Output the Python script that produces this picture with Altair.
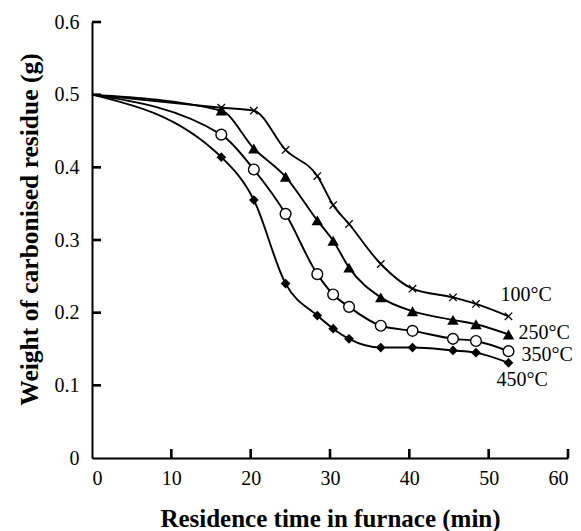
import altair as alt
import pandas as pd

# ---- data ----
time_min = [0, 16.3, 20.4, 24.4, 28.4, 30.4, 32.4, 36.4, 40.4, 45.5, 48.4, 52.5]
series_names = ["100°C", "250°C", "350°C", "450°C"]
w_100 = [0.500, 0.482, 0.478, 0.424, 0.388, 0.348, 0.322, 0.267, 0.233, 0.221, 0.212, 0.195]
w_250 = [0.500, 0.478, 0.426, 0.387, 0.327, 0.299, 0.262, 0.221, 0.202, 0.190, 0.184, 0.170]
w_350 = [0.500, 0.445, 0.397, 0.336, 0.253, 0.225, 0.208, 0.182, 0.175, 0.164, 0.161, 0.147]
w_450 = [0.500, 0.414, 0.355, 0.240, 0.196, 0.178, 0.164, 0.152, 0.152, 0.148, 0.145, 0.131]
x_tick_values = [0, 10, 20, 30, 40, 50, 60]
y_tick_values = [0, 0.1, 0.2, 0.3, 0.4, 0.5, 0.6]

series_values = [w_100, w_250, w_350, w_450]

# ---- styling ----
FONT = "Liberation Serif"
marker_styles = [
    dict(shape="M-1,-1L1,1M-1,1L1,-1", filled=False, stroke="black", strokeWidth=1.3, size=55),
    dict(shape="triangle-up", filled=True, fill="black", size=130),
    dict(shape="circle", filled=True, fill="white", stroke="black", strokeWidth=1.4, size=115),
    dict(shape="diamond", filled=True, fill="black", size=95),
]
label_offsets = [(-8, -21), (10, -1), (13, 4), (-12, 17)]

rows = []
for name, vals in zip(series_names, series_values):
    for t, v in zip(time_min, vals):
        rows.append({"time": t, "weight": v, "series": name})
df = pd.DataFrame(rows)

x_scale = alt.Scale(domain=[0, 60], nice=False, zero=False)
y_scale = alt.Scale(domain=[0, 0.6], nice=False)

x_axis = alt.Axis(
    values=x_tick_values, ticks=False, tickSize=0, grid=False, format="d",
    labelFont=FONT, labelFontSize=20, labelColor="black", labelPadding=10,
    domainColor="black", domainWidth=2,
    title="Residence time in furnace (min)", titleFont=FONT, titleFontSize=25,
    titleFontWeight="bold", titleColor="black", titlePadding=18,
)
y_axis = alt.Axis(
    values=y_tick_values, ticks=False, tickSize=0, grid=False, format=".1~f",
    labelFont=FONT, labelFontSize=20, labelColor="black", labelPadding=13,
    domainColor="black", domainWidth=2,
    title="Weight of carbonised residue (g)", titleFont=FONT, titleFontSize=25.5,
    titleFontWeight="bold", titleColor="black", titlePadding=12, titleY=207,
)

# inward axis ticks (positions from the tick values, length in pixels)
tick_df = pd.DataFrame({
    "tx": [v for v in x_tick_values if v > 0],
    "ty": [v for v in y_tick_values if v > 0],
})
x_ticks = alt.Chart(tick_df).mark_rule(color="black", strokeWidth=2.6).encode(
    x=alt.X("tx:Q", scale=x_scale, axis=x_axis),
    y=alt.value(436), y2=alt.value(427),
)
y_ticks = alt.Chart(tick_df).mark_rule(color="black", strokeWidth=2.6).encode(
    y=alt.Y("ty:Q", scale=y_scale, axis=y_axis),
    x=alt.value(0), x2=alt.value(9),
)

X = alt.X("time:Q", scale=x_scale, axis=x_axis)
Y = alt.Y("weight:Q", scale=y_scale, axis=y_axis)

lines = alt.Chart(df).mark_line(
    interpolate="monotone", color="black", strokeWidth=1.9
).encode(x=X, y=Y, detail="series:N")

layers = [x_ticks, y_ticks, lines]
for name, style, (dx, dy) in zip(series_names, marker_styles, label_offsets):
    sub = df[df["series"] == name]
    pts = sub[sub["time"] > 0]
    layers.append(
        alt.Chart(pts).mark_point(opacity=1, **style).encode(
            x=alt.X("time:Q", scale=x_scale), y=alt.Y("weight:Q", scale=y_scale)
        )
    )
    last = sub[sub["time"] == sub["time"].max()]
    layers.append(
        alt.Chart(last).mark_text(
            align="left", baseline="middle", dx=dx, dy=dy,
            font=FONT, fontSize=20, color="black"
        ).encode(
            x=alt.X("time:Q", scale=x_scale), y=alt.Y("weight:Q", scale=y_scale),
            text="series:N"
        )
    )

chart = alt.layer(*layers).properties(
    width=476, height=436,
    autosize=alt.AutoSizeParams(type="none"),
    padding={"left": 92, "top": 22, "right": 13, "bottom": 73},
    background="white",
).configure_view(stroke=None)

chart.save("out.html", embed_options={"renderer": "svg", "actions": False})
